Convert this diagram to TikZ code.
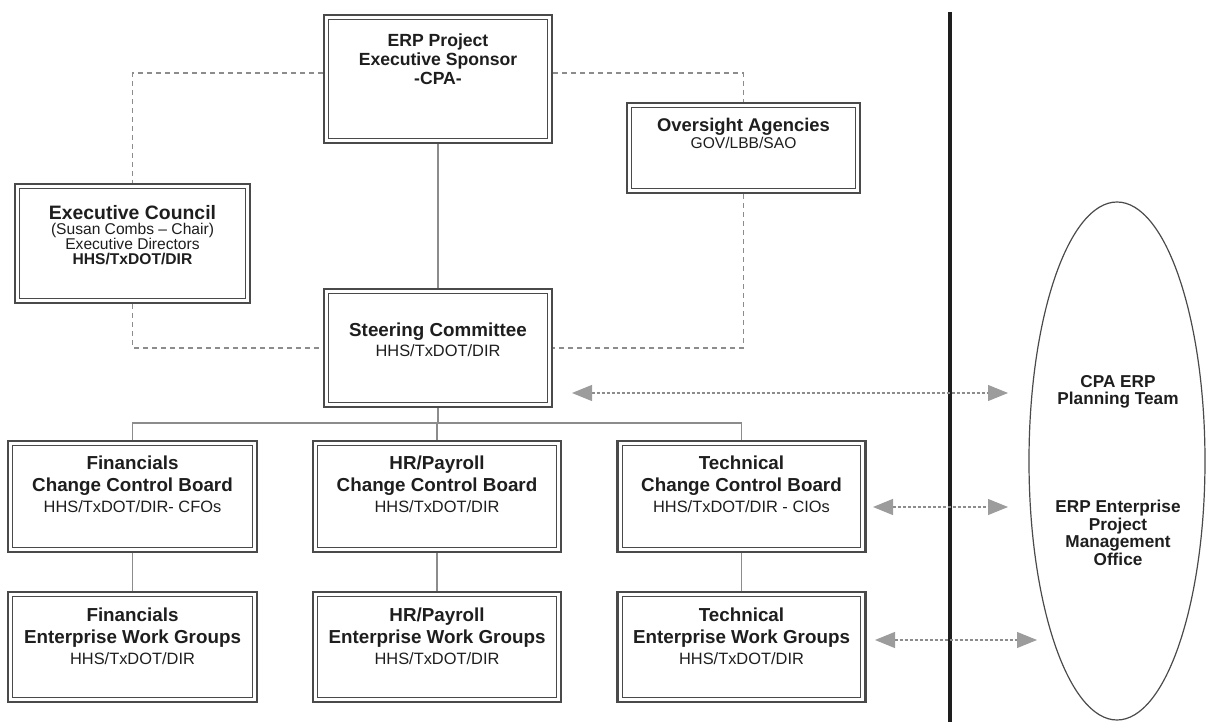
\documentclass[tikz,border=0pt]{standalone}
\usepackage{fontspec}
\setmainfont{Liberation Sans}
\usetikzlibrary{arrows.meta,shapes.geometric}
\definecolor{ink}{HTML}{1E1E1E}
\definecolor{frame}{HTML}{4A4A4A}
\definecolor{wire}{HTML}{8C8C8C}
\definecolor{head}{HTML}{9C9C9C}
\begin{document}
\begin{tikzpicture}[x=0.5pt,y=-0.5pt,
  box/.style={draw=frame, line width=1.3pt, inner sep=0pt, fill=white,
    path picture={\draw[frame, line width=0.45pt]
      ([shift={(2.4pt,-2.4pt)}]path picture bounding box.north west) rectangle ([shift={(-2.4pt,2.4pt)}]path picture bounding box.south east);}},
  ttl/.style={text=ink, align=center, inner sep=0pt, font=\fontsize{9.4}{11}\selectfont\bfseries},
  sbt/.style={text=ink, align=center, inner sep=0pt, font=\fontsize{8.2}{9.5}\selectfont},
  link/.style={draw=wire, line width=0.55pt},
  dlink/.style={draw=wire, line width=0.55pt, dash pattern=on 2.5pt off 2pt},
  biarrow/.style={draw=wire, line width=0.55pt, dash pattern=on 1.5pt off 1pt,
    {Triangle[length=10pt,width=8pt,color=head,fill=head]}-{Triangle[length=10pt,width=8pt,color=head,fill=head]}},
]
\useasboundingbox (0,0) rectangle (1207,722);

% boxes
\node[box, minimum width=114pt,   minimum height=64pt]   (sponsor)   at (438,79) {};
\node[box, minimum width=116.5pt, minimum height=45pt]   (oversight) at (743.5,148) {};
\node[box, minimum width=117.5pt, minimum height=59.5pt] (council)   at (132.5,243.5) {};
\node[box, minimum width=114pt,   minimum height=59pt]   (steering)  at (438,348) {};
\node[box, minimum width=124.5pt, minimum height=55.5pt] (fccb) at (132.5,496.5) {};
\node[box, minimum width=124pt,   minimum height=55.5pt] (hccb) at (437,496.5) {};
\node[box, minimum width=124pt,   minimum height=55.5pt] (tccb) at (741.5,496.5) {};
\node[box, minimum width=124.5pt, minimum height=55pt]   (fewg) at (132.5,647) {};
\node[box, minimum width=124pt,   minimum height=55pt]   (hewg) at (437,647) {};
\node[box, minimum width=124pt,   minimum height=55pt]   (tewg) at (741.5,647) {};

% ellipse
\node[ellipse, draw=frame, line width=0.6pt, minimum width=88pt, minimum height=259pt, inner sep=0pt] (pmo) at (1117,461) {};

% connectors
\draw[dlink] ([yshift=3pt]sponsor.west) -| (council.north);
\draw[dlink] ([yshift=3pt]sponsor.east) -| (oversight.north);
\draw[dlink] (council.south) |- (steering.west);
\draw[dlink] (oversight.south) |- (steering.east);
\draw[link] (sponsor.south) -- (steering.north);
\coordinate (bus) at (438,423);
\draw[link] (steering.south) -- (bus);
\draw[link] (fccb.north) |- (bus) -| (tccb.north);
\draw[link] (bus) -- (bus -| hccb.north) -- (hccb.north);
\draw[link] (fccb.south) -- (fewg.north);
\draw[link] (hccb.south) -- (hewg.north);
\draw[link] (tccb.south) -- (tewg.north);

% divider
\coordinate (divtop) at (950,12);
\coordinate (divbot) at (950,722);
\draw[line width=2.2pt, draw=ink] (divtop) -- (divbot);

% double arrows
\coordinate (a1l) at (572,393);  \coordinate (a1r) at (1008,393);
\coordinate (a2l) at (873,507);  \coordinate (a2r) at (1008,507);
\coordinate (a3l) at (875,640);  \coordinate (a3r) at (1037,640);
\draw[biarrow] (a1l) -- (a1r);
\draw[biarrow] (a2l) -- (a2r);
\draw[biarrow] (a3l) -- (a3r);

% texts
\node[ttl, font=\fontsize{8.8}{9.4}\selectfont\bfseries] (sponsor-t) at (438,59) {ERP Project\\Executive Sponsor\\-CPA-};
\node[ttl, font=\fontsize{9.2}{10}\selectfont\bfseries] (oversight-t) at (743.5,127) {Oversight Agencies};
\node[sbt, font=\fontsize{7.8}{9}\selectfont] (oversight-s) at (743.5,143) {GOV/LBB/SAO};
\node[ttl, font=\fontsize{9.7}{11}\selectfont\bfseries] (council-t) at (132.5,213) {Executive Council};
\node[sbt, font=\fontsize{7.8}{7.6}\selectfont] (council-s) at (132.5,244) {(Susan Combs – Chair)\\Executive Directors\\\textbf{HHS/TxDOT/DIR}};
\node[ttl] (steering-t) at (438,332) {Steering Committee};
\node[sbt] (steering-s) at (438,351) {HHS/TxDOT/DIR};

\node[ttl] (fccb-t) at (132.5,476) {Financials\\Change Control Board};
\node[sbt] (fccb-s) at (132.5,507) {HHS/TxDOT/DIR- CFOs};
\node[ttl] (hccb-t) at (437,476) {HR/Payroll\\Change Control Board};
\node[sbt] (hccb-s) at (437,507) {HHS/TxDOT/DIR};
\node[ttl] (tccb-t) at (741.5,476) {Technical\\Change Control Board};
\node[sbt] (tccb-s) at (741.5,507) {HHS/TxDOT/DIR - CIOs};

\node[ttl] (fewg-t) at (132.5,628) {Financials\\Enterprise Work Groups};
\node[sbt] (fewg-s) at (132.5,659) {HHS/TxDOT/DIR};
\node[ttl] (hewg-t) at (437,628) {HR/Payroll\\Enterprise Work Groups};
\node[sbt] (hewg-s) at (437,659) {HHS/TxDOT/DIR};
\node[ttl] (tewg-t) at (741.5,628) {Technical\\Enterprise Work Groups};
\node[sbt] (tewg-s) at (741.5,659) {HHS/TxDOT/DIR};

\node[ttl, font=\fontsize{8.6}{8.8}\selectfont\bfseries] (pmo-t1) at (1118,392) {CPA ERP\\Planning Team};
\node[ttl, font=\fontsize{8.6}{8.8}\selectfont\bfseries] (pmo-t2) at (1118,533) {ERP Enterprise\\Project\\Management\\Office};
\end{tikzpicture}
\end{document}
